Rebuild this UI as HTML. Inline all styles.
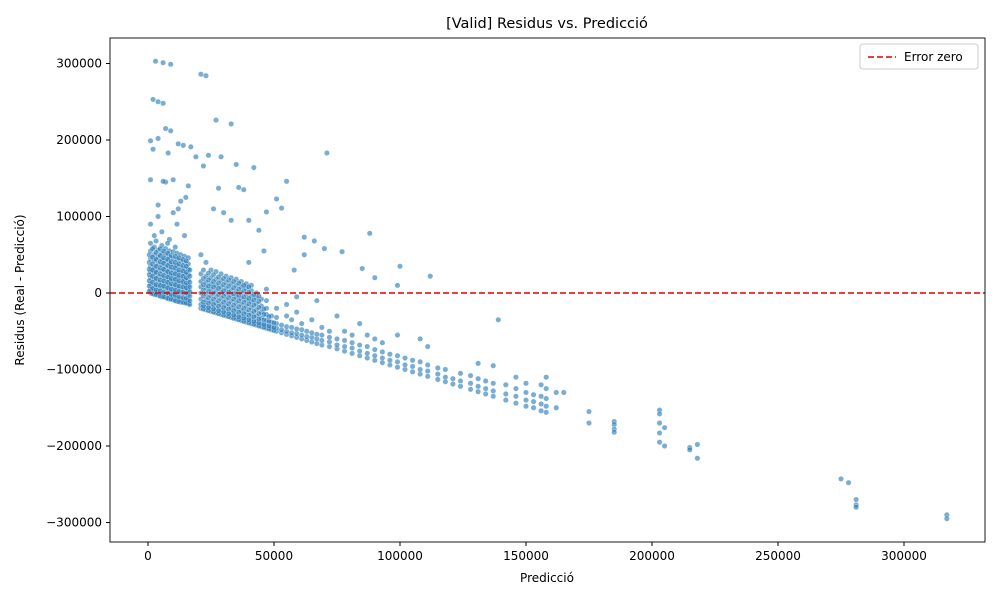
<!DOCTYPE html>
<html><head><meta charset="utf-8"><style>
body{margin:0;background:#fff;font-family:"Liberation Sans","DejaVu Sans",sans-serif;}
svg text{font-family:"DejaVu Sans","Liberation Sans",sans-serif;font-size:12px;fill:#000}
</style></head><body>
<svg id="chart" width="1000" height="600" viewBox="0 0 1000 600" xmlns="http://www.w3.org/2000/svg">
<rect width="1000" height="600" fill="#fff"/>
<text x="547" y="28" text-anchor="middle" style="font-size:14.5px">[Valid] Residus vs. Predicció</text>
<g id="axes"></g>
<g id="points"></g>
<line id="zero" x1="110" x2="985" stroke="#e00000" stroke-width="1.6" stroke-dasharray="6,3"/>
<rect x="110" y="38" width="875" height="504" fill="none" stroke="#000" stroke-width="0.9"/>
<g>
<rect x="860" y="44" width="118" height="25" rx="3" fill="#fff" fill-opacity="0.8" stroke="#ccc"/>
<line x1="868" x2="896" y1="57" y2="57" stroke="#e00000" stroke-width="1.6" stroke-dasharray="6,3"/>
<text x="904" y="61">Error zero</text>
</g>
<text x="547" y="582" text-anchor="middle">Predicció</text>
<text transform="translate(24,290) rotate(-90)" text-anchor="middle">Residus (Real - Predicció)</text>
</svg>
<script>
const xTicks=[0,50000,100000,150000,200000,250000,300000];
const yTicks=[-300000,-200000,-100000,0,100000,200000,300000];
const xTickLabels=["0","50000","100000","150000","200000","250000","300000"];
const yTickLabels=["\u2212300000","\u2212200000","\u2212100000","0","100000","200000","300000"];
// predictions (thousands) : residuals (thousands)
const clusterPts="1:0,5,12,20,28,35,45,55,65,90|2.5:-2,3,10,18,26,33,42,50,60,75|4:-3,2,8,15,22,30,38,47,56,100,115|5.5:-5,0,7,13,21,29,37,44,52,62,80|7:-6,-1,6,12,19,27,34,42,50,58,145|8.5:-8,-3,4,10,17,24,31,39,47,55,70|10:-9,-4,3,9,16,23,30,37,45,54,105|11.5:-11,-6,1,8,14,21,28,36,44,52,90|13:-12,-7,0,6,13,20,27,34,42,50,120|14.5:-13,-8,-1,5,11,18,25,32,40,48,75|16:-14,-9,-2,4,10,17,24,31,38,46,140|21:-20,-15,-8,0,8,15,25,50|23:-22,-16,-9,-1,7,14,22,40|25:-24,-18,-11,-3,5,12,20,30|27:-26,-20,-13,-5,3,10,18,28|29:-28,-22,-15,-7,1,8,16,25|31:-30,-24,-17,-9,-1,6,14,22|33:-32,-26,-19,-11,-3,4,12,20|35:-34,-28,-21,-13,-5,2,10,18|37:-36,-30,-23,-15,-7,0,8,15|39:-38,-32,-25,-17,-9,-2,6,12|41:-40,-34,-27,-19,-11,-4,3,10|43:-42,-37,-30,-22,-14,-6,0|45:-44,-40,-33,-25,-17,-8|47:-46,-42,-36,-28,-20,-10,5|49:-48,-44,-38,-30|51:-50,-46,-40,-32,-20|53:-52,-48,-42|55:-54,-50,-44,-30,-15|57:-56,-52,-45,-35|59:-58,-53,-47,-25,-5|61:-60,-55,-48,-40|63:-62,-57,-50|65:-64,-58,-52,-35|67:-66,-60,-54,-10|69:-68,-62,-55,-45|72:-70,-64,-58,-50|75:-73,-68,-60,-30|78:-76,-70,-62,-50|81:-79,-72,-65,-55|84:-82,-76,-68,-40|87:-85,-79,-70,-55|90:-88,-82,-74,-60|93:-91,-85,-77,-65|96:-94,-88,-80|99:-97,-90,-82,-55|102:-100,-94,-85|105:-103,-96,-88|108:-106,-100,-90,-60|111:-109,-102,-94,-70|115:-113,-106,-98|118:-116,-110,-100|121:-119,-112|124:-122,-115,-105|128:-126,-118,-108|131:-129,-122,-112,-92|134:-132,-125,-115|137:-135,-128,-118,-95|139:-35|142:-140,-132,-120|146:-144,-135,-125,-110|150:-148,-140,-130,-118|153:-150,-142,-133|156:-154,-145,-135,-120|158:-156,-148,-138,-125,-110|162:-150,-130|165:-130|175:-155,-170|185:-168,-172,-178,-182|203:-153,-158,-170,-183,-195|205:-200,-176|215:-202,-205|218:-198,-216|275:-243|278:-248|281:-270,-277,-280|317:-290,-295";
const denseExtraPts="0.5:2,9,16,24,31,40,50|1.8:-1,6,14,22,30,38,47,58|3.2:-2,4,11,19,27,35,44,53,68|4.8:-4,3,10,17,25,33,41,49,58|6.2:-5,1,9,16,23,31,39,46,55|7.8:-7,0,7,14,21,28,36,44,52,65|9.2:-8,-2,5,12,19,26,34,41,49|10.8:-10,-3,4,11,18,25,33,40,48,60|12.2:-11,-5,2,9,16,23,30,38,46|13.8:-12,-6,1,8,15,22,29,36,44|15.2:-13,-7,0,7,13,20,27,35,42|16.6:-15,-10,-4,2,8,14,22,30|22:-21,-17,-12,-4,4,11,19,30|24:-23,-19,-13,-6,2,9,17,26|26:-25,-21,-15,-8,0,8,15,24|28:-27,-23,-17,-10,-2,6,13,21|30:-29,-25,-19,-12,-4,3,11,19|32:-31,-27,-21,-14,-6,1,9,17|34:-33,-29,-23,-16,-8,-1,7,15|36:-35,-31,-25,-18,-10,-3,5,13|38:-37,-33,-27,-20,-12,-5,3,10|40:-39,-35,-29,-22,-14,-7,1,8|42:-41,-37,-31,-24,-16,-9,-2|44:-43,-39,-34,-27,-19,-11,-4|46:-45,-41,-35,-28,-21|48:-47,-43,-37,-31|50:-49,-45,-39";
const outlierPts="3,303;6,301;9,299;21,286;23,284;2,253;4,250;6,248;7,215;9,212;4,202;1,199;2,188;12,195;14,193;17,191;8,183;27,226;33,221;22,166;24,180;29,178;35,168;42,164;19,178;1,148;10,148;6,146;28,137;36,138;38,135;55,146;71,183;51,123;53,111;47,106;30,105;40,95;62,73;66,68;70,58;88,78;85,32;100,35;112,22;99,10;90,20;77,54;62,50;44,82;58,30;26,110;33,95;15,125;12,110;46,55;40,40";
const predictions=[], residuals=[];
[clusterPts,denseExtraPts].forEach(s=>s.split("|").forEach(g=>{const [x,ys]=g.split(":");ys.split(",").forEach(y=>{predictions.push(+x*1000);residuals.push(+y*1000);});}));
outlierPts.split(";").forEach(p=>{const [x,y]=p.split(",");predictions.push(+x*1000);residuals.push(+y*1000);});

const NS="http://www.w3.org/2000/svg";
const xs=v=>148+v*126/50000;
const ys=v=>293-v*76.5/100000;
const axes=document.getElementById("axes"),pts=document.getElementById("points");
function mk(t,a,p){const e=document.createElementNS(NS,t);for(const k in a)e.setAttribute(k,a[k]);p.appendChild(e);return e;}
xTicks.forEach((v,i)=>{
 const l=mk("line",{x1:xs(v),x2:xs(v),y1:542,y2:546,stroke:"#000"},axes);
 
 
 const t=mk("text",{x:xs(v),y:560,"text-anchor":"middle"},axes);t.textContent=xTickLabels[i];
 
 
});
yTicks.forEach((v,i)=>{
 const l=mk("line",{x1:106,x2:110,y1:ys(v),y2:ys(v),stroke:"#000"},axes);
 
 
 const t=mk("text",{x:102,y:ys(v)+4,"text-anchor":"end"},axes);t.textContent=yTickLabels[i];
 
 
});
predictions.forEach((p,i)=>{
 const c=mk("circle",{cx:xs(p),cy:ys(residuals[i]),r:2.7,fill:"#1f77b4","fill-opacity":0.6,stroke:"#fff","stroke-width":0.3},pts);
 
 
});
const z=document.getElementById("zero");z.setAttribute("y1",ys(0));z.setAttribute("y2",ys(0));
</script>
</body></html>
